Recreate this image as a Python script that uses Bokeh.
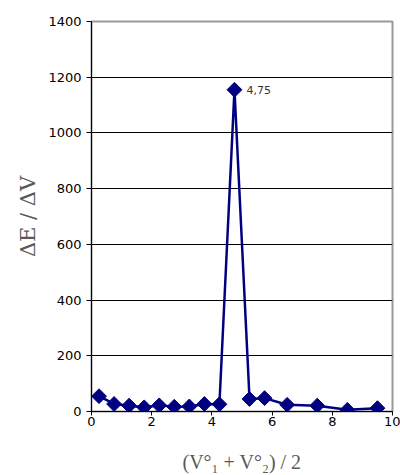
import math
from bokeh.plotting import figure
from bokeh.models import Range1d, FixedTicker, ColumnDataSource
from bokeh.core.properties import value
from bokeh.embed import file_html
from bokeh.resources import INLINE

# data
x_mid = [0.25, 0.75, 1.25, 1.75, 2.25, 2.75, 3.25, 3.75, 4.25, 4.75,
         5.25, 5.75, 6.5, 7.5, 8.5, 9.5]
dE_dV = [55, 27, 21, 15, 22, 17, 18, 27, 26, 1155,
         45, 48, 24, 21, 6, 12]
x_ticks = [0, 2, 4, 6, 8, 10]
y_ticks = [0, 200, 400, 600, 800, 1000, 1200, 1400]
peak_label = "4,75"

NAVY = "#000080"

p = figure(width=400, height=475, output_backend="svg", toolbar_location=None,
           x_range=Range1d(0, 10), y_range=Range1d(0, 1400),
           min_border_left=91, min_border_right=8, min_border_top=21,
           min_border_bottom=63)
p.background_fill_color = "white"
p.border_fill_color = "white"
p.outline_line_color = "#999999"
p.outline_line_width = 2

# grid
p.xgrid.visible = False
p.ygrid.ticker = FixedTicker(ticks=y_ticks[1:-1])
p.ygrid.grid_line_color = "black"
p.ygrid.grid_line_width = 1

# axes
for ax in (p.xaxis[0], p.yaxis[0]):
    ax.axis_line_color = "black"
    ax.axis_line_width = 1
    ax.major_tick_line_color = "black"
    ax.minor_tick_line_color = None
    ax.major_tick_in = 0
    ax.major_label_text_font = "DejaVu Sans"
    ax.major_label_text_font_size = "13px"
    ax.major_label_text_color = "black"
    ax.axis_label_text_font_style = "normal"
    ax.axis_label_text_color = "#595959"

p.xaxis.axis_label_text_font = "Liberation Serif"
p.xaxis.axis_label_text_font_size = "20px"
p.yaxis.axis_label_text_font = "DejaVu Serif"
p.yaxis.axis_label_text_font_size = "21px"

p.xaxis.ticker = FixedTicker(ticks=x_ticks)
p.yaxis.ticker = FixedTicker(ticks=y_ticks)
p.xaxis.major_tick_out = 4
p.yaxis.major_tick_out = 5
p.xaxis.major_label_standoff = 1
p.yaxis.major_label_standoff = 5
p.xaxis.axis_label = "(V°\u2081 + V°\u2082) / 2"
p.yaxis.axis_label = "ΔE / ΔV"
p.xaxis.axis_label_standoff = 22
p.yaxis.axis_label_standoff = 5

src = ColumnDataSource(dict(x=x_mid, y=dE_dV))
p.line("x", "y", source=src, line_color=NAVY, line_width=2.5)
p.scatter("x", "y", source=src, marker="square", size=10.5, angle=math.pi / 4,
          fill_color=NAVY, line_color=NAVY)

i_peak = dE_dV.index(max(dE_dV))
p.text(x=[x_mid[i_peak]], y=[dE_dV[i_peak]], text=[peak_label],
       text_font=value("DejaVu Sans"), text_font_size="11px",
       text_color="#333333", text_baseline="middle", text_align="left",
       x_offset=12)

open("out.html", "w").write(file_html(p, INLINE))
